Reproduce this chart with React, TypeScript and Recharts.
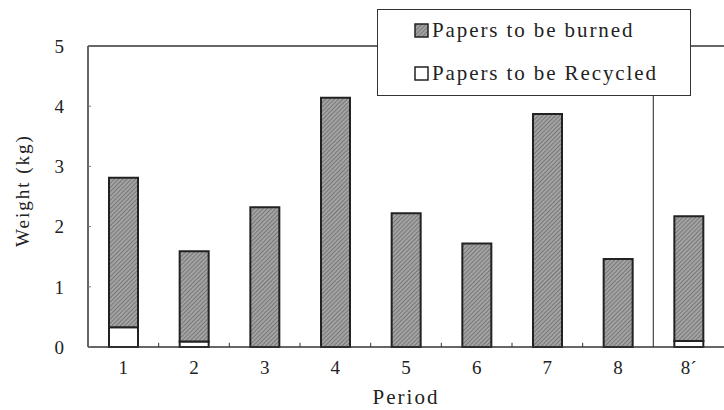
import React from 'react';
import {
  BarChart,
  Bar,
  XAxis,
  YAxis,
  ReferenceLine,
} from 'recharts';

// period labels, the last one is the repeated 8th period
const periods = ['1', '2', '3', '4', '5', '6', '7', '8', '8\u00b4'];
const burned = [2.48, 1.5, 2.32, 4.14, 2.22, 1.72, 3.87, 1.46, 2.07];
const recycled = [0.33, 0.09, 0, 0, 0, 0, 0, 0, 0.1];
const yTicks = [0, 1, 2, 3, 4, 5];
const seriesNames = ['Papers to be burned', 'Papers to be Recycled'];

const data = periods.map((p, i) => ({
  pos: i + 1,
  name: p,
  recycled: recycled[i],
  burned: burned[i],
}));

const majorTicks = data.map((d) => d.pos);
const minorTicks = data.slice(0, 7).map((d) => d.pos + 0.5);

const font = 'Liberation Serif';

const HatchDefs = ({ id }) => (
  <defs>
    <pattern id={id} width="3" height="3" patternUnits="userSpaceOnUse" patternTransform="rotate(45)">
      <rect width="3" height="3" fill="#a3a3a3" />
      <line x1="0" y1="0" x2="0" y2="3" stroke="#5a5a5a" strokeWidth="1.2" />
    </pattern>
  </defs>
);

const LegendBox = () => (
  <div
    style={{
      position: 'absolute',
      left: 377,
      top: 9,
      width: 314,
      height: 87,
      border: '1px solid #333',
      background: '#fff',
      fontSize: 21,
      letterSpacing: 1.9,
      color: '#222',
      boxSizing: 'border-box',
    }}
  >
    <div style={{ position: 'absolute', left: 36, top: 8, display: 'flex', alignItems: 'center' }}>
      <svg width="15" height="15" style={{ marginRight: 3 }}>
        <HatchDefs id="hatchIcon" />
        <rect x="1" y="1" width="13" height="13" fill="url(#hatchIcon)" stroke="#222" strokeWidth="1.5" />
      </svg>
      <span>{seriesNames[0]}</span>
    </div>
    <div style={{ position: 'absolute', left: 36, top: 51, display: 'flex', alignItems: 'center' }}>
      <svg width="15" height="15" style={{ marginRight: 3 }}>
        <rect x="1" y="1" width="13" height="13" fill="#fff" stroke="#222" strokeWidth="1.5" />
      </svg>
      <span>{seriesNames[1]}</span>
    </div>
  </div>
);

export default function App() {
  return (
    <div
      style={{
        position: 'absolute',
        left: 0,
        top: 0,
        width: 724,
        height: 410,
        background: '#fff',
        fontFamily: font,
      }}
    >
      <BarChart
        width={724}
        height={410}
        data={data}
        barSize={29}
        margin={{ top: 46, right: 0, left: 0, bottom: 0 }}
        style={{ fontFamily: font }}
      >
        <HatchDefs id="hatchBar" />
        <XAxis
          dataKey="pos"
          type="number"
          domain={[0.5, 9.5]}
          ticks={majorTicks}
          tickFormatter={(v) => periods[v - 1]}
          height={63}
          tickLine={false}
          tickSize={0}
          tickMargin={14}
          axisLine={{ stroke: '#333', strokeWidth: 1.5 }}
          tick={{ fill: '#222', fontFamily: font, fontSize: 19 }}
          label={{
            value: 'Period',
            position: 'insideBottom',
            offset: 6,
            fill: '#222',
            fontFamily: font,
            fontSize: 21,
            letterSpacing: 2,
          }}
        />
        <YAxis
          type="number"
          domain={[0, 5]}
          ticks={yTicks}
          width={88}
          axisLine={{ stroke: '#333', strokeWidth: 1.5 }}
          tickSize={-3}
          tickMargin={27}
          tickLine={{ stroke: '#777' }}
          tick={{ fill: '#222', fontFamily: font, fontSize: 19 }}
          label={{
            value: 'Weight (kg)',
            angle: -90,
            position: 'center',
            dx: -22,
            dy: -6,
            fill: '#222',
            fontFamily: font,
            fontSize: 19,
            letterSpacing: 2,
          }}
        />
        <ReferenceLine y={5} stroke="#333" strokeWidth={1.5} />
        <ReferenceLine x={8.5} stroke="#444" strokeWidth={1.2} />
        {/* small inner ticks between the periods */}
        {minorTicks.map((t) => (
          <ReferenceLine
            key={t}
            segment={[{ x: t, y: 0 }, { x: t, y: 0.07 }]}
            stroke="#333"
            strokeWidth={1}
          />
        ))}
        <Bar
          dataKey="recycled"
          name={seriesNames[1]}
          stackId="a"
          fill="#fff"
          stroke="#222"
          strokeWidth={2}
          isAnimationActive={false}
        />
        <Bar
          dataKey="burned"
          name={seriesNames[0]}
          stackId="a"
          fill="url(#hatchBar)"
          stroke="#222"
          strokeWidth={2}
          isAnimationActive={false}
        />
      </BarChart>
      <LegendBox />
    </div>
  );
}
